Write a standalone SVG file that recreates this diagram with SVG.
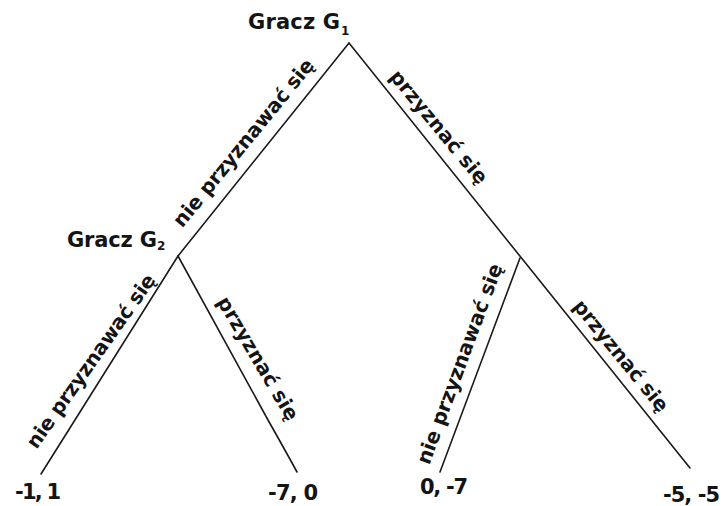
<svg xmlns="http://www.w3.org/2000/svg" width="722" height="506" viewBox="0 0 722 506">
<style>
.e{stroke:#1a1a1a;stroke-width:1.6;fill:none;stroke-linecap:round}
.t{font-family:"DejaVu Sans","Liberation Sans",sans-serif;font-weight:bold;fill:#141414}
.l{font-size:20px}
.g{font-size:21px}
.p{font-size:21px}
.s{font-size:12px}
</style>
<rect width="722" height="506" fill="#fff"/>
<g id="connectors">
<line class="e" x1="349" y1="43" x2="178" y2="256"/>
<line class="e" x1="349" y1="43" x2="690" y2="468"/>
<line class="e" x1="178" y1="256" x2="41" y2="474"/>
<path class="e" d="M178 256 L268 420 Q285 450 297 472"/>
<line class="e" x1="520" y1="258" x2="440" y2="472"/>
<text class="t l" transform="translate(182.3,228.5) rotate(-50.8)" textLength="210">nie przyznawać się</text>
<text class="t l" transform="translate(388.7,76.9) rotate(50.4)" textLength="141">przyznać się</text>
<text class="t l" transform="translate(36.4,450) rotate(-54.8)" textLength="208">nie przyznawać się</text>
<text class="t l" transform="translate(216.6,301.6) rotate(59.4)" textLength="140">przyznać się</text>
<text class="t l" transform="translate(429.2,465.6) rotate(-69.7)" textLength="212">nie przyznawać się</text>
<text class="t l" transform="translate(572.2,306.5) rotate(50.8)" textLength="138">przyznać się</text>
</g>
<g id="node-g1">
<text class="t g" x="248" y="29" textLength="92">Gracz G</text>
<text class="t s" x="341" y="35">1</text>
</g>
<g id="node-g2">
<text class="t g" x="67" y="247" textLength="90">Gracz G</text>
<text class="t s" x="157" y="250">2</text>
</g>
<g id="node-right"/>
<g id="leaf-1"><text class="t p" x="15" y="499" textLength="46">-1, 1</text></g>
<g id="leaf-2"><text class="t p" x="268" y="500" textLength="50">-7, 0</text></g>
<g id="leaf-3"><text class="t p" x="420" y="494" textLength="48">0, -7</text></g>
<g id="leaf-4"><text class="t p" x="663" y="502" textLength="57">-5, -5</text></g>
</svg>
